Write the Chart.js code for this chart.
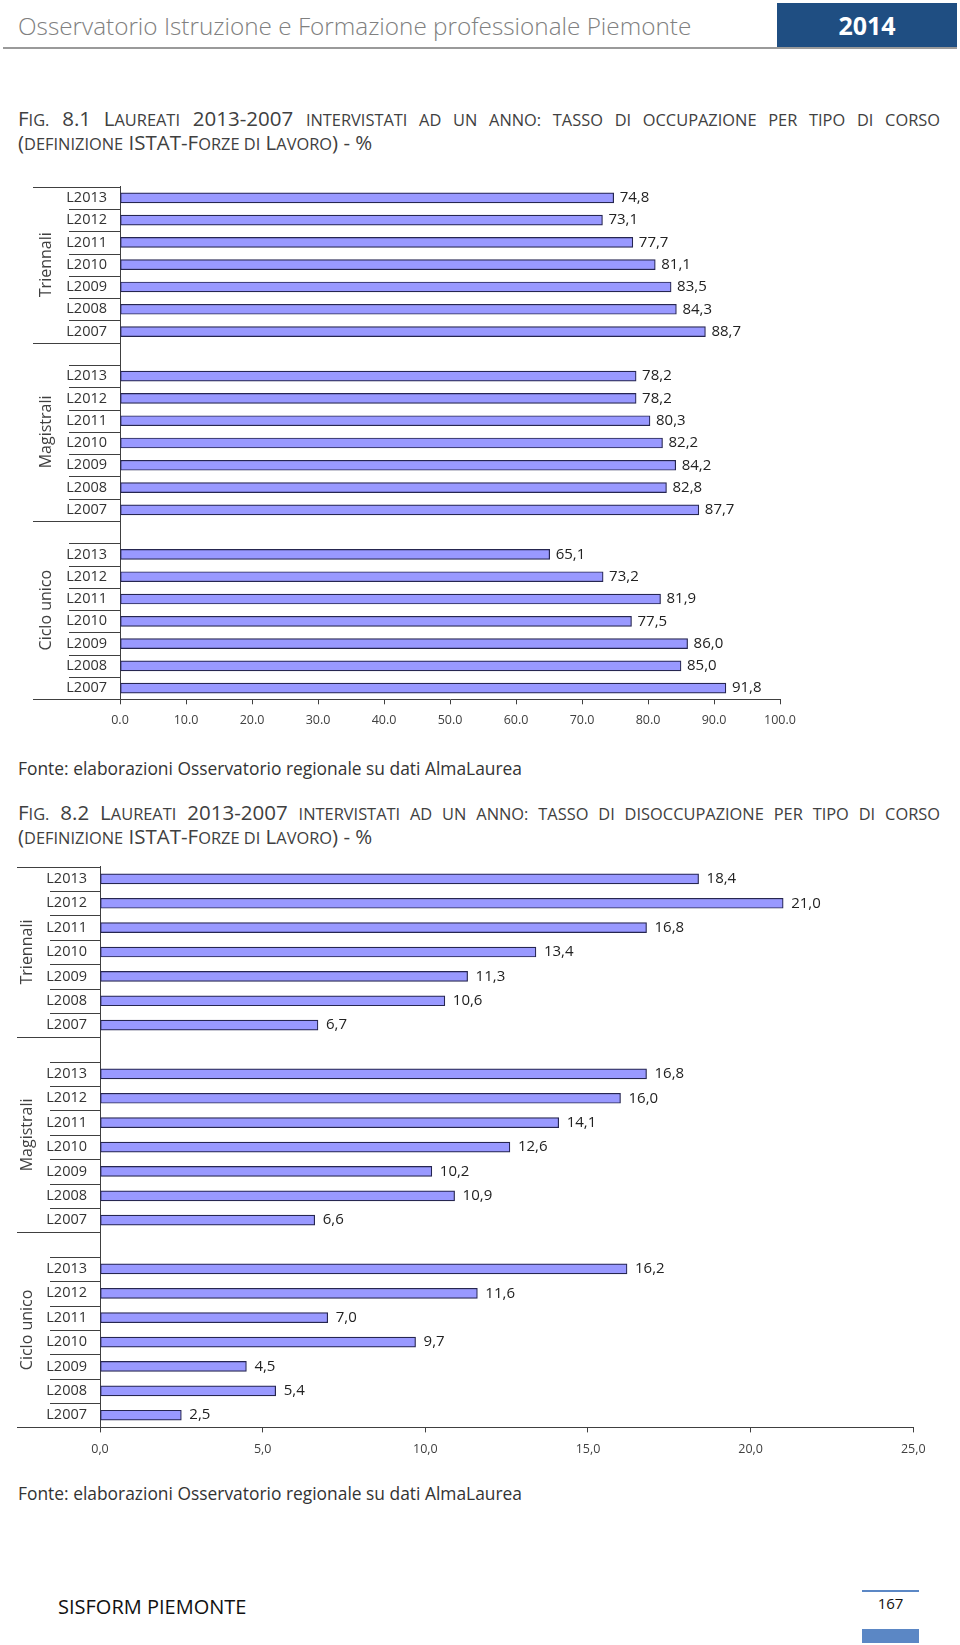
<!DOCTYPE html>
<html>
<head>
<meta charset="utf-8">
<script src="https://cdn.jsdelivr.net/npm/chart.js@4/dist/chart.umd.min.js"></script>
<style>
body { margin:0; width:960px; height:1645px; position:relative; background:#fff; font-family:'Open Sans', sans-serif; color:#404040; overflow:hidden; }
.abs { position:absolute; }
#testa { left:18px; top:7px; font-size:24.3px; font-weight:300; color:#808080; line-height:38px; }
#anno { left:777px; top:3px; width:180px; height:45px; background:#1f4e82; color:#fff; font-weight:bold; font-size:25px; text-align:center; line-height:45px; }
#linea { left:3px; top:47px; width:954px; height:2px; background:#9a9a9a; }
.titolo { left:18px; width:922px; font-size:20.5px; line-height:23px; color:#404040; }
.titolo .k { font-size:0.8em; text-transform:uppercase; }
.riga1 { text-align:justify; text-align-last:justify; }
.fonte { left:18px; font-size:17.4px; color:#333; }
.box { position:absolute; left:0; width:960px; }
#piede { left:58px; top:1593px; font-size:20px; color:#111; }
#pagina { left:862px; top:1593px; width:57px; text-align:center; font-size:15px; color:#111; }
#pag-linea { left:862px; top:1590px; width:57px; height:2px; background:#5b87c5; }
#pag-box { left:862px; top:1629px; width:57px; height:14px; background:#5b87c5; }
</style>
</head>
<body>
<div id="testa" class="abs">Osservatorio Istruzione e Formazione professionale Piemonte</div>
<div id="anno" class="abs">2014</div>
<div id="linea" class="abs"></div>

<div class="abs titolo" style="top:107px">
  <div class="riga1">F<span class="k">ig.</span> 8.1 L<span class="k">aureati</span> 2013-2007 <span class="k">intervistati ad un anno: tasso di occupazione per tipo di corso</span></div>
  <div>(<span class="k">definizione</span> ISTAT-F<span class="k">orze di</span> L<span class="k">avoro</span>) - %</div>
</div>
<div class="box" style="top:165px;height:575px"><canvas id="graficoOcc"></canvas></div>
<div class="abs fonte" style="top:756px">Fonte: elaborazioni Osservatorio regionale su dati AlmaLaurea</div>

<div class="abs titolo" style="top:801px">
  <div class="riga1">F<span class="k">ig.</span> 8.2 L<span class="k">aureati</span> 2013-2007 <span class="k">intervistati ad un anno: tasso di disoccupazione per tipo di corso</span></div>
  <div>(<span class="k">definizione</span> ISTAT-F<span class="k">orze di</span> L<span class="k">avoro</span>) - %</div>
</div>
<div class="box" style="top:845px;height:625px"><canvas id="graficoDis"></canvas></div>
<div class="abs fonte" style="top:1481px">Fonte: elaborazioni Osservatorio regionale su dati AlmaLaurea</div>

<div id="piede" class="abs">SISFORM PIEMONTE</div>
<div id="pag-linea" class="abs"></div>
<div id="pagina" class="abs">167</div>
<div id="pag-box" class="abs"></div>

<script>
// categorie e gruppi
const anni = ['L2013', 'L2012', 'L2011', 'L2010', 'L2009', 'L2008', 'L2007'];
const gruppi = ['Triennali', 'Magistrali', 'Ciclo unico'];

// Fig. 8.1 tasso di occupazione
const occTriennali = [74.8, 73.1, 77.7, 81.1, 83.5, 84.3, 88.7];
const occMagistrali = [78.2, 78.2, 80.3, 82.2, 84.2, 82.8, 87.7];
const occCiclo = [65.1, 73.2, 81.9, 77.5, 86.0, 85.0, 91.8];
const occTicks = [0, 10, 20, 30, 40, 50, 60, 70, 80, 90, 100];

// Fig. 8.2 tasso di disoccupazione
const disTriennali = [18.4, 21.0, 16.8, 13.4, 11.3, 10.6, 6.7];
const disMagistrali = [16.8, 16.0, 14.1, 12.6, 10.2, 10.9, 6.6];
const disCiclo = [16.2, 11.6, 7.0, 9.7, 4.5, 5.4, 2.5];
const disTicks = [0, 5, 10, 15, 20, 25];

Chart.defaults.font.family = "'Open Sans', sans-serif";
Chart.defaults.color = '#404040';

// una riga vuota prima di ogni gruppo (tranne il primo)
function costruisci(serie) {
    const labels = [];
    const data = [];
    serie.forEach((s, i) => {
        if (i > 0) {
            labels.push('');
            data.push(null);
        }
        anni.forEach((a, j) => {
            labels.push(a);
            data.push(s[j]);
        });
    });
    return { labels, data };
}

const virgola = (v) => v.toFixed(1).replace('.', ',');

// separatori dell'asse a due livelli + nomi dei gruppi
const assiGruppi = {
    id: 'assiGruppi',
    afterDraw(chart, args, opts) {
        const ctx = chart.ctx;
        const y = chart.scales.y;
        const area = chart.chartArea;
        const labels = chart.data.labels;
        const band = y.getPixelForValue(1) - y.getPixelForValue(0);
        const linea = (py, x0) => {
            const yy = Math.round(py) + 0.5;
            ctx.beginPath();
            ctx.moveTo(x0, yy);
            ctx.lineTo(area.left, yy);
            ctx.stroke();
        };
        ctx.save();
        ctx.strokeStyle = '#404040';
        ctx.lineWidth = 1;
        const inizi = [];
        labels.forEach((l, i) => {
            const top = y.getPixelForValue(i) - band / 2;
            if (i === 0 || l === '') {
                linea(top, opts.gruppoX);
                inizi.push(top);
            } else {
                linea(top, opts.etichetteX);
            }
        });
        linea(area.bottom, opts.gruppoX);
        inizi.push(area.bottom);

        ctx.fillStyle = '#404040';
        ctx.font = "16px 'Open Sans', sans-serif";
        ctx.textAlign = 'center';
        ctx.textBaseline = 'middle';
        gruppi.forEach((g, i) => {
            const cy = (inizi[i] + inizi[i + 1]) / 2;
            ctx.save();
            ctx.translate(opts.titoloX, cy);
            ctx.rotate(-Math.PI / 2);
            ctx.fillText(g, 0, 0);
            ctx.restore();
        });
        ctx.restore();
    }
};

// valori a destra delle barre
const etichette = {
    id: 'etichette',
    afterDatasetsDraw(chart, args, opts) {
        const ctx = chart.ctx;
        const meta = chart.getDatasetMeta(0);
        const data = chart.data.datasets[0].data;
        ctx.save();
        ctx.fillStyle = '#222';
        ctx.font = "15px 'Open Sans', sans-serif";
        ctx.textAlign = 'left';
        ctx.textBaseline = 'middle';
        meta.data.forEach((bar, i) => {
            if (data[i] === null) return;
            ctx.fillText(virgola(data[i]), bar.x + opts.gap, bar.y);
        });
        ctx.restore();
    }
};

function disegna(id, serie, ticks, formato, cfg) {
    const d = costruisci(serie);
    return new Chart(document.getElementById(id), {
        type: 'bar',
        data: {
            labels: d.labels,
            datasets: [{
                data: d.data,
                backgroundColor: '#9999ff',
                borderColor: '#262650',
                borderWidth: 1.2,
                borderSkipped: false,
                barThickness: 10
            }]
        },
        options: {
            indexAxis: 'y',
            responsive: true,
            maintainAspectRatio: false,
            animation: false,
            events: [],
            layout: { padding: cfg.padding },
            plugins: {
                legend: { display: false },
                tooltip: { enabled: false },
                assiGruppi: cfg.gruppi,
                etichette: { gap: cfg.gap }
            },
            scales: {
                x: {
                    min: ticks[0],
                    max: ticks[ticks.length - 1],
                    afterBuildTicks: (scale) => { scale.ticks = ticks.map(v => ({ value: v })); },
                    afterFit: (scale) => { scale.height = 30; },
                    grid: { display: true, drawOnChartArea: false, drawTicks: true, tickLength: 5, color: '#404040' },
                    border: { display: true, color: '#404040', width: 1 },
                    ticks: {
                        padding: cfg.tickPad,
                        font: { size: 12.5 },
                        color: '#404040',
                        maxRotation: 0,
                        callback: (v) => formato(v)
                    }
                },
                y: {
                    type: 'category',
                    offset: true,
                    afterFit: (scale) => { scale.width = cfg.larghezzaY; },
                    grid: { display: false, drawTicks: false },
                    border: { display: true, color: '#404040', width: 1 },
                    ticks: {
                        autoSkip: false,
                        padding: 13,
                        font: { size: 14.5 },
                        color: '#333'
                    }
                }
            }
        },
        plugins: [assiGruppi, etichette]
    });
}

disegna('graficoOcc', [occTriennali, occMagistrali, occCiclo], occTicks, (v) => v.toFixed(1), {
    padding: { left: 0, right: 180, top: 12.7, bottom: 10.7 },
    larghezzaY: 120,
    tickPad: 9,
    gap: 6,
    gruppi: { gruppoX: 33, etichetteX: 69, titoloX: 46 }
});

disegna('graficoDis', [disTriennali, disMagistrali, disCiclo], disTicks, virgola, {
    padding: { left: 0, right: 46.7, top: 14.3, bottom: 12.6 },
    larghezzaY: 100,
    tickPad: 10,
    gap: 8,
    gruppi: { gruppoX: 17, etichetteX: 50, titoloX: 27 }
});
</script>
</body>
</html>
